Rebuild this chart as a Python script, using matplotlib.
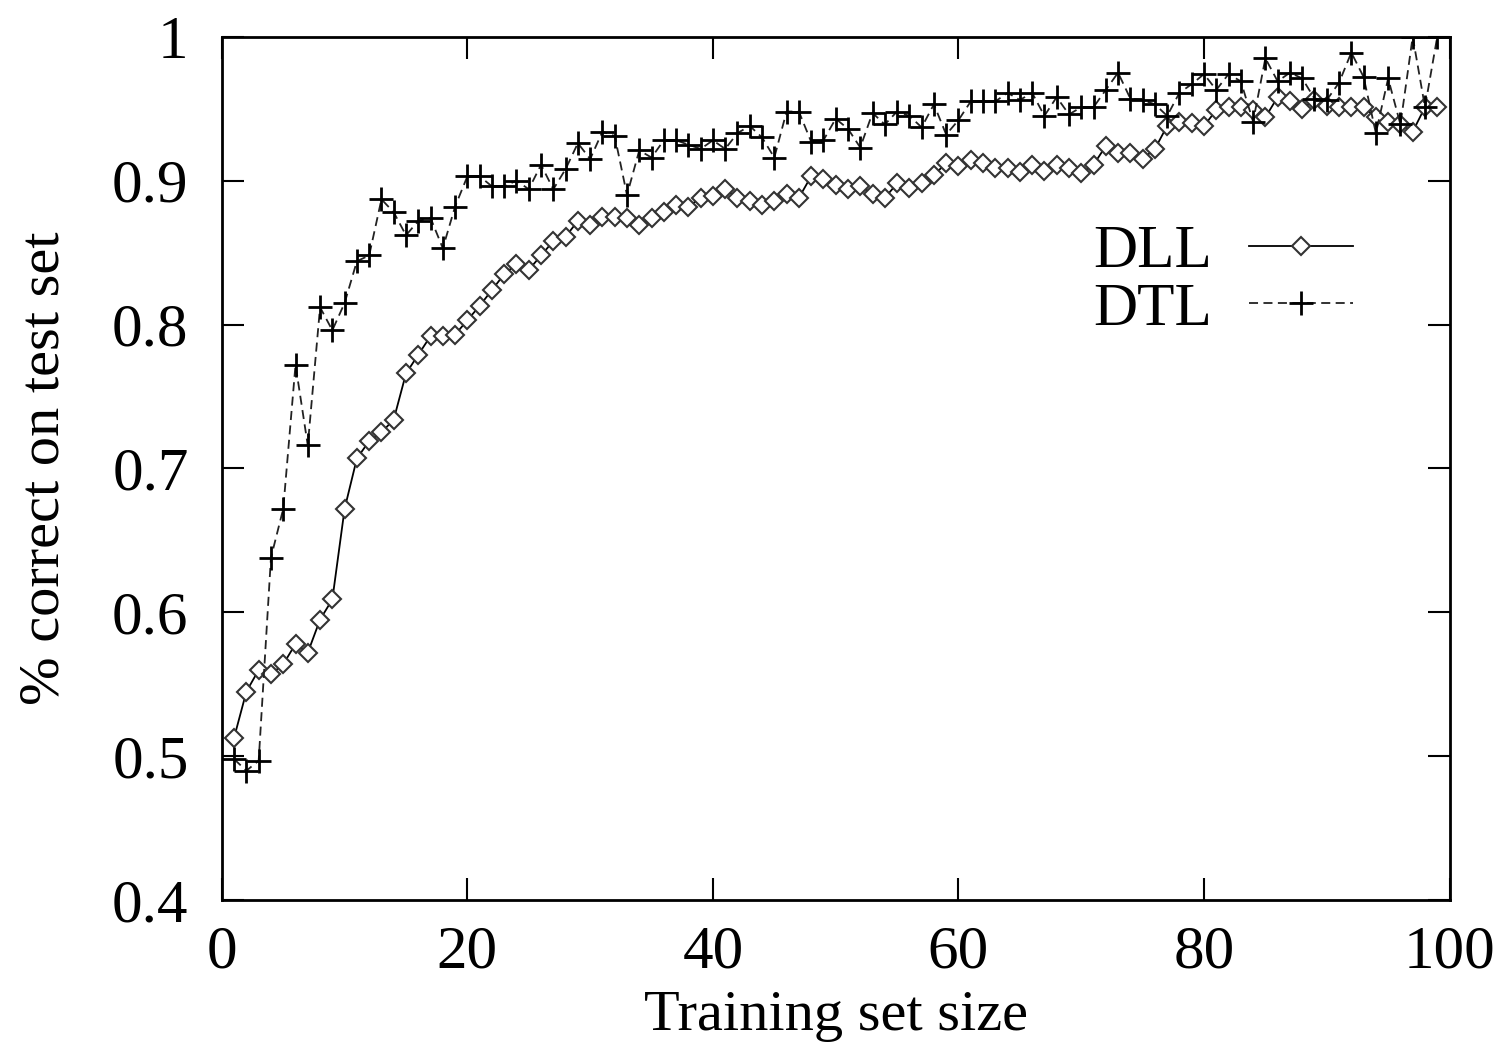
import numpy as np
import matplotlib.pyplot as plt
from matplotlib.legend_handler import HandlerLine2D

plt.rcParams['font.family'] = ['Liberation Serif', 'DejaVu Serif']

sizes = list(range(1, 100))

dll = [0.513, 0.545, 0.560, 0.557, 0.564, 0.578, 0.572, 0.595, 0.609, 0.672,
       0.707, 0.719, 0.725, 0.734, 0.766, 0.779, 0.792, 0.792, 0.793, 0.803,
       0.813, 0.824, 0.835, 0.842, 0.838, 0.848, 0.858, 0.861, 0.872, 0.869,
       0.875, 0.875, 0.874, 0.869, 0.874, 0.878, 0.883, 0.882, 0.888, 0.889,
       0.894, 0.888, 0.886, 0.883, 0.886, 0.891, 0.888, 0.903, 0.901, 0.897,
       0.894, 0.896, 0.891, 0.888, 0.898, 0.895, 0.898, 0.904, 0.912, 0.910,
       0.914, 0.912, 0.909, 0.909, 0.906, 0.911, 0.907, 0.911, 0.909, 0.905,
       0.911, 0.924, 0.919, 0.919, 0.915, 0.922, 0.938, 0.941, 0.940, 0.938,
       0.949, 0.951, 0.951, 0.949, 0.944, 0.958, 0.955, 0.950, 0.956, 0.952,
       0.951, 0.951, 0.951, 0.944, 0.941, 0.939, 0.934, 0.951, 0.951]

dtl = [0.498, 0.490, 0.497, 0.638, 0.672, 0.772, 0.716, 0.812, 0.796, 0.815,
       0.844, 0.848, 0.887, 0.878, 0.862, 0.872, 0.874, 0.853, 0.882, 0.903,
       0.903, 0.896, 0.896, 0.900, 0.894, 0.911, 0.894, 0.908, 0.926, 0.915,
       0.934, 0.931, 0.890, 0.921, 0.916, 0.928, 0.928, 0.925, 0.922, 0.928,
       0.922, 0.933, 0.938, 0.930, 0.916, 0.948, 0.948, 0.927, 0.928, 0.943,
       0.936, 0.923, 0.947, 0.939, 0.948, 0.945, 0.937, 0.953, 0.932, 0.942,
       0.955, 0.955, 0.955, 0.961, 0.956, 0.961, 0.945, 0.958, 0.946, 0.951,
       0.951, 0.963, 0.975, 0.957, 0.956, 0.953, 0.945, 0.961, 0.967, 0.974,
       0.963, 0.974, 0.969, 0.941, 0.985, 0.969, 0.975, 0.971, 0.957, 0.956,
       0.968, 0.989, 0.972, 0.933, 0.971, 0.939, 1.000, 0.951, 1.000]


# gnuplot-style key: the point sits a third of the way along the sample line
class ThirdHandler(HandlerLine2D):
    def get_xdata(self, legend, xdescent, ydescent, width, height, fontsize):
        xdata = [-xdescent, -xdescent + width]
        return xdata, [-xdescent + width / 3.0]


fig = plt.figure(figsize=(14.99, 10.48), dpi=100)
ax = fig.add_axes([0.148, 0.141, 0.819, 0.824])

l1, = ax.plot(sizes, dll, color='black', lw=1.3, marker='D', ms=9, mfc='white',
              mec='#333333', mew=1.5, label='DLL')
l2, = ax.plot(sizes, dtl, color='#222222', lw=1.3, ls=(0, (5, 3)), marker='+',
              ms=17, mec='black', mew=2.0, label='DTL')

ax.set_xlim(0, 100)
ax.set_ylim(0.4, 1.0)
ax.set_xticks([0, 20, 40, 60, 80, 100])
ax.set_yticks([0.4, 0.5, 0.6, 0.7, 0.8, 0.9, 1.0])
ax.set_yticklabels(['0.4', '0.5', '0.6', '0.7', '0.8', '0.9', '1'])
ax.tick_params(direction='in', length=16, width=1.5, labelsize=44,
               top=True, right=True)
ax.tick_params(axis='x', pad=18)
ax.tick_params(axis='y', pad=24)
for s in ax.spines.values():
    s.set_linewidth(2)

ax.set_xlabel('Training set size', fontsize=42, labelpad=7)
ax.set_ylabel('% correct on test set', fontsize=42, labelpad=30)

ax.legend(handles=[l1, l2], loc='upper right', bbox_to_anchor=(0.946, 0.818),
          frameon=False, markerfirst=False, fontsize=44, handlelength=1.7,
          handletextpad=0.6, labelspacing=0.03, borderpad=0,
          handler_map={l1: ThirdHandler(), l2: ThirdHandler()})

fig.savefig('out.png', dpi=100)
